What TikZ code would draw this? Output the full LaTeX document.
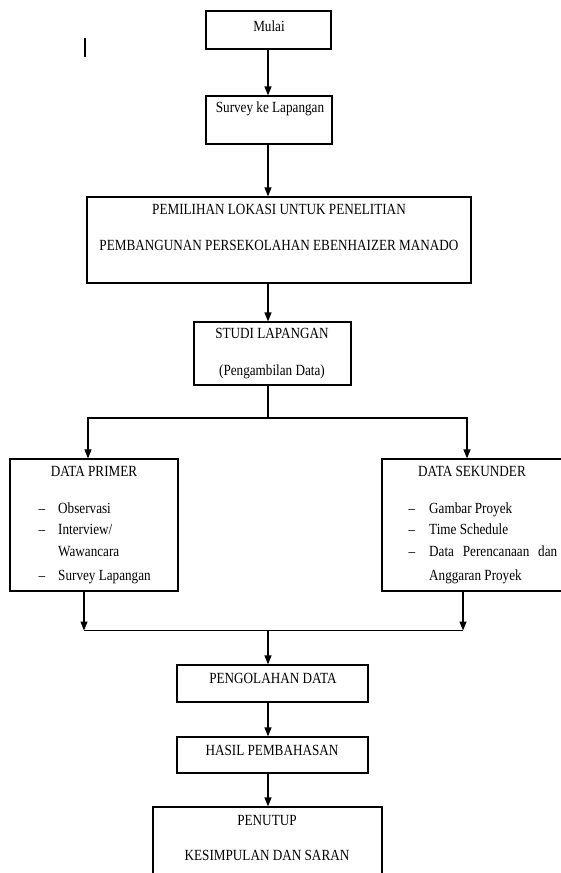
\documentclass[tikz,border=0pt]{standalone}
\usepackage{fontspec}
\setmainfont{Liberation Serif}[FakeStretch=0.85]
\usetikzlibrary{arrows.meta}

\tikzset{
	box/.style={draw, line width=1.2pt, inner sep=0pt},
	txt/.style={font=\fontsize{15.5pt}{18pt}\selectfont, inner sep=0pt, text height=10pt, text depth=3pt},
	link/.style={line width=1.2pt},
	flow/.style={link, -{Triangle[length=9pt,width=7pt]}},
}

\begin{document}
\begin{tikzpicture}[x=1pt, y=-1pt]

	\useasboundingbox (0,0) rectangle (561,873);

	% boxes
	\node[box, minimum width=125pt, minimum height=38pt] (mulai) at (268.5,30) {};
	\node[box, minimum width=126pt, minimum height=48pt] (survey) at (269,120) {};
	\node[box, minimum width=384pt, minimum height=86pt] (lokasi) at (279,240) {};
	\node[box, minimum width=157pt, minimum height=63pt] (studi) at (272.5,353.5) {};
	\node[box, minimum width=168pt, minimum height=132pt] (primer) at (94,525) {};
	\node[box, minimum width=190pt, minimum height=132pt] (sekunder) at (477,525) {};
	\node[box, minimum width=191pt, minimum height=37pt] (olah) at (272.5,683.5) {};
	\node[box, minimum width=191pt, minimum height=36pt] (hasil) at (272.5,755) {};
	\node[box, minimum width=229pt, minimum height=86pt] (penutup) at (267.5,850) {};

	% texts
	\node[txt] (mulaiText) at (269,28) {Mulai};
	\node[txt] (surveyText) at (270,109) {Survey ke Lapangan};
	\node[txt] (lokasiA) at (279,211) {PEMILIHAN LOKASI UNTUK PENELITIAN};
	\node[txt] (lokasiB) at (279,247) {PEMBANGUNAN PERSEKOLAHAN EBENHAIZER MANADO};
	\node[txt] (studiA) at (272,335) {STUDI LAPANGAN};
	\node[txt] (studiB) at (272,372) {(Pengambilan Data)};

	\node[txt] (primerTitle) at (94,473) {DATA PRIMER};
	\node[txt] (dashP1) at (42,510) {--};
	\node[txt] (dashP2) at (42,531) {--};
	\node[txt] (dashP3) at (42,577) {--};
	\node[txt, anchor=west] (itemP1) at (58,510) {Observasi};
	\node[txt, anchor=west] (itemP2) at (58,531) {Interview/};
	\node[txt, anchor=west] (itemP3) at (58,553) {Wawancara};
	\node[txt, anchor=west] (itemP4) at (58,577) {Survey Lapangan};

	\node[txt] (sekunderTitle) at (472,473) {DATA SEKUNDER};
	\node[txt] (dashS1) at (412,510) {--};
	\node[txt] (dashS2) at (412,531) {--};
	\node[txt] (dashS3) at (412,553) {--};
	\node[txt, anchor=west] (itemS1) at (429,510) {Gambar Proyek};
	\node[txt, anchor=west] (itemS2) at (429,531) {Time Schedule};
	\node[txt, anchor=west] (itemS3) at (429,553) {\makebox[128pt][s]{Data Perencanaan dan}};
	\node[txt, anchor=west] (itemS4) at (429,577) {Anggaran Proyek};

	\node[txt] (olahText) at (273,680) {PENGOLAHAN DATA};
	\node[txt] (hasilText) at (272,752) {HASIL PEMBAHASAN};
	\node[txt] (penutupA) at (267,822) {PENUTUP};
	\node[txt] (penutupB) at (267,857) {KESIMPULAN DAN SARAN};

	% connectors
	\coordinate (axis) at (268,0);
	\coordinate (splitL) at (88,418);
	\coordinate (splitR) at (467,418);
	\coordinate (joinL) at (84,630.5);
	\coordinate (joinR) at (463,630.5);

	\draw[flow] (axis |- mulai.south) -- (axis |- survey.north);
	\draw[flow] (axis |- survey.south) -- (axis |- lokasi.north);
	\draw[flow] (axis |- lokasi.south) -- (axis |- studi.north);
	\draw[link] (axis |- studi.south) -- (axis |- splitL);
	\draw[flow] (axis |- splitL) -| (splitL |- primer.north);
	\draw[flow] (axis |- splitL) -| (splitR |- sekunder.north);
	\draw[flow] (joinL |- primer.south) -- (joinL);
	\draw[flow] (joinR |- sekunder.south) -- (joinR);
	\draw[link] (joinL) -- (joinR);
	\draw[flow] (axis |- joinL) -- (axis |- olah.north);
	\draw[flow] (axis |- olah.south) -- (axis |- hasil.north);
	\draw[flow] (axis |- hasil.south) -- (axis |- penutup.north);

	% stray mark
	\draw[link] (85,38) -- (85,57);

\end{tikzpicture}
\end{document}
